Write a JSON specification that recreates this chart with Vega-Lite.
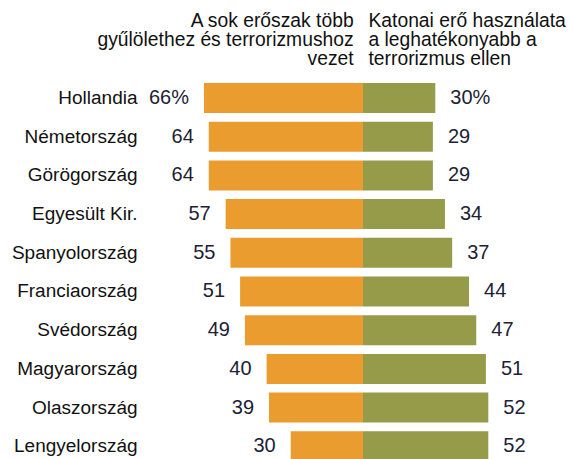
{
  "$schema": "https://vega.github.io/schema/vega-lite/v6.json",
  "width": 426,
  "height": 387,
  "autosize": {"type": "none"},
  "padding": {"left": 145, "top": 78.65, "right": 0, "bottom": 0},
  "background": "#ffffff",
  "config": {"view": {"stroke": null}, "font": "Liberation Sans"},
  "data": {
    "values": [
      {"country": "Hollandia", "side": "left", "share": -66, "label": "66%"},
      {"country": "Hollandia", "side": "right", "share": 30, "label": "30%"},
      {"country": "Németország", "side": "left", "share": -64, "label": "64"},
      {"country": "Németország", "side": "right", "share": 29, "label": "29"},
      {"country": "Görögország", "side": "left", "share": -64, "label": "64"},
      {"country": "Görögország", "side": "right", "share": 29, "label": "29"},
      {"country": "Egyesült Kir.", "side": "left", "share": -57, "label": "57"},
      {"country": "Egyesült Kir.", "side": "right", "share": 34, "label": "34"},
      {"country": "Spanyolország", "side": "left", "share": -55, "label": "55"},
      {"country": "Spanyolország", "side": "right", "share": 37, "label": "37"},
      {"country": "Franciaország", "side": "left", "share": -51, "label": "51"},
      {"country": "Franciaország", "side": "right", "share": 44, "label": "44"},
      {"country": "Svédország", "side": "left", "share": -49, "label": "49"},
      {"country": "Svédország", "side": "right", "share": 47, "label": "47"},
      {"country": "Magyarország", "side": "left", "share": -40, "label": "40"},
      {"country": "Magyarország", "side": "right", "share": 51, "label": "51"},
      {"country": "Olaszország", "side": "left", "share": -39, "label": "39"},
      {"country": "Olaszország", "side": "right", "share": 52, "label": "52"},
      {"country": "Lengyelország", "side": "left", "share": -30, "label": "30"},
      {"country": "Lengyelország", "side": "right", "share": 52, "label": "52"}
    ]
  },
  "encoding": {
    "y": {
      "field": "country",
      "type": "nominal",
      "sort": null,
      "scale": {"paddingInner": 0.225, "paddingOuter": 0.1125},
      "axis": {
        "title": null,
        "domain": false,
        "ticks": false,
        "labelPadding": 8,
        "labelFontSize": 19,
        "labelColor": "#111111",
        "labelFont": "Liberation Sans"
      }
    },
    "x": {
      "field": "share",
      "type": "quantitative",
      "scale": {"domain": [-90.46, 86.31], "nice": false, "zero": false},
      "axis": {
        "orient": "top",
        "title": null,
        "grid": false,
        "domain": false,
        "ticks": false,
        "values": [-4.1, 2.07],
        "labelOverlap": false,
        "labelBound": false,
        "labelFlush": false,
        "labelLimit": 0,
        "labelFontSize": 19.3,
        "labelColor": "#111111",
        "labelLineHeight": 19,
        "labelPadding": 52.6,
        "labelBaseline": "alphabetic",
        "labelAlign": {"condition": {"test": "datum.value < 0", "value": "right"}, "value": "left"},
        "labelExpr": "datum.value < 0 ? ['A sok erőszak több', 'gyűlölethez és terrorizmushoz', 'vezet'] : ['Katonai erő használata', 'a leghatékonyabb a', 'terrorizmus ellen']"
      }
    }
  },
  "layer": [
    {
      "mark": {"type": "bar"},
      "encoding": {
        "x2": {"datum": 0},
        "color": {
          "field": "side",
          "type": "nominal",
          "scale": {"domain": ["left", "right"], "range": ["#EA9D2E", "#969B4A"]},
          "legend": null
        }
      }
    },
    {
      "transform": [{"filter": "datum.side == 'left'"}],
      "mark": {"type": "text", "align": "right", "baseline": "middle", "dx": -15, "fontSize": 20, "color": "#1c2233"},
      "encoding": {"text": {"field": "label"}}
    },
    {
      "transform": [{"filter": "datum.side == 'right'"}],
      "mark": {"type": "text", "align": "left", "baseline": "middle", "dx": 15, "fontSize": 20, "color": "#1c2233"},
      "encoding": {"text": {"field": "label"}}
    }
  ]
}
